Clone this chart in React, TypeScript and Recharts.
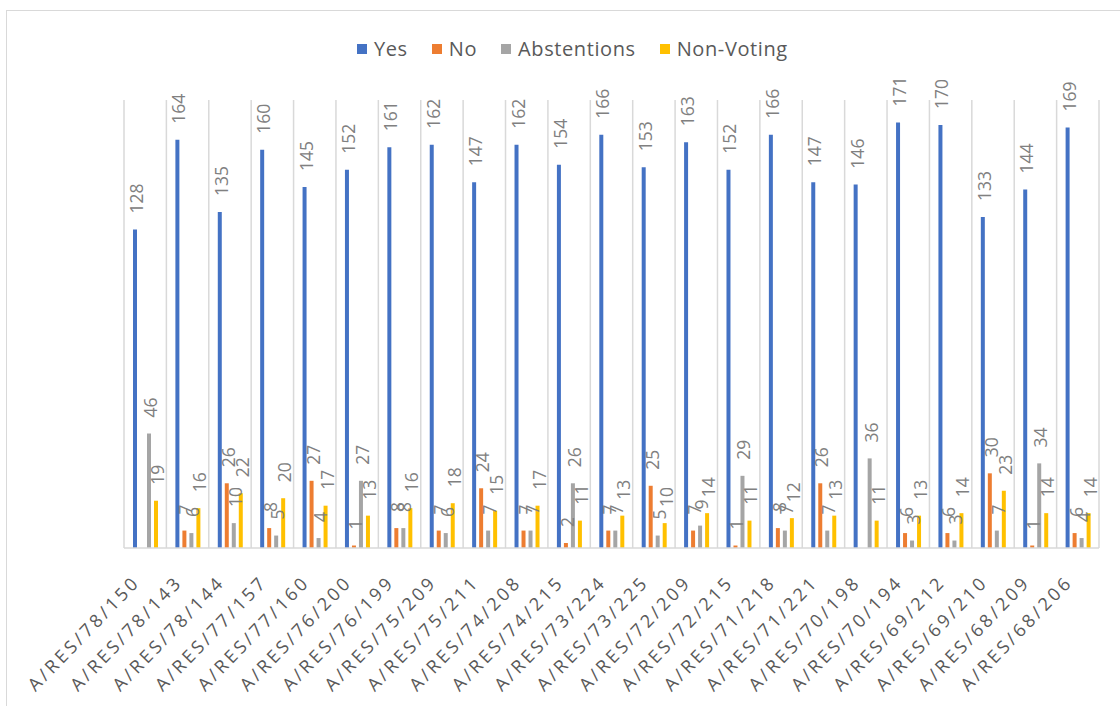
import React from 'react';
import { BarChart, Bar, XAxis, YAxis, CartesianGrid, Legend, LabelList } from 'recharts';

const categories = [
  'A/RES/78/150', 'A/RES/78/143', 'A/RES/78/144', 'A/RES/77/157', 'A/RES/77/160', 'A/RES/76/200',
  'A/RES/76/199', 'A/RES/75/209', 'A/RES/75/211', 'A/RES/74/208', 'A/RES/74/215', 'A/RES/73/224',
  'A/RES/73/225', 'A/RES/72/209', 'A/RES/72/215', 'A/RES/71/218', 'A/RES/71/221', 'A/RES/70/198',
  'A/RES/70/194', 'A/RES/69/212', 'A/RES/69/210', 'A/RES/68/209', 'A/RES/68/206',
];
const yesVotes = [128, 164, 135, 160, 145, 152, 161, 162, 147, 162, 154, 166, 153, 163, 152, 166, 147, 146, 171, 170, 133, 144, 169];
const noVotes = [0, 7, 26, 8, 27, 1, 8, 7, 24, 7, 2, 7, 25, 7, 1, 8, 26, null, 6, 6, 30, 1, 6];
const abstentions = [46, 6, 10, 5, 4, 27, 8, 6, 7, 7, 26, 7, 5, 9, 29, 7, 7, 36, 3, 3, 7, 34, 4];
const nonVoting = [19, 16, 22, 20, 17, 13, 16, 18, 15, 17, 11, 13, 10, 14, 11, 12, 13, 11, 13, 14, 23, 14, 14];

const seriesNames = ['Yes', 'No', 'Abstentions', 'Non-Voting'];
const seriesKeys = ['yes', 'no', 'abst', 'nv'];
const seriesColors = ['#4472C4', '#ED7D31', '#A5A5A5', '#FFC000'];

const data = categories.map((c, i) => ({
  name: c,
  yes: yesVotes[i],
  no: noVotes[i],
  abst: abstentions[i],
  nv: nonVoting[i],
}));

const FONT = '"Open Sans", sans-serif';

const renderValueLabel = (props: any) => {
  const { x, y, width, value } = props;
  if (value === null || value === undefined) return null;
  const cx = Number(x) + Number(width) / 2 + 1;
  const cy = Number(y) - 16;
  return (
    <text
      x={cx}
      y={cy}
      transform={`rotate(-90, ${cx}, ${cy})`}
      textAnchor="start"
      dominantBaseline="central"
      fill="#808080"
      fontSize={17.5}
      fontFamily={FONT}
    >
      {value}
    </text>
  );
};

const renderTick = (props: any) => {
  const { x, y, payload } = props;
  return (
    <g transform={`translate(${x - 4}, ${y + 35})`}>
      <text
        x={0}
        y={0}
        transform="rotate(-46)"
        textAnchor="end"
        fill="#595959"
        fontSize={18}
        fontFamily={FONT}
        letterSpacing={3.2}
      >
        {payload.value}
      </text>
    </g>
  );
};

const renderLegend = () => (
  <div style={{ display: 'flex', alignItems: 'center', fontFamily: FONT, fontSize: 20, color: '#595959', whiteSpace: 'nowrap' }}>
    {seriesNames.map((n, i) => (
      <div key={n} style={{ display: 'flex', alignItems: 'center', marginRight: 24 }}>
        <span style={{ display: 'inline-block', width: 10, height: 10, background: seriesColors[i], marginRight: 7 }} />
        <span style={{ letterSpacing: 0.6 }}>{n}</span>
      </div>
    ))}
  </div>
);

const verticalLines = ({ offset }: any) => {
  const res: number[] = [];
  for (let i = 0; i <= categories.length; i++) {
    res.push(offset.left + (i * offset.width) / categories.length);
  }
  return res;
};

export default function App() {
  return (
    <div style={{ position: 'absolute', left: 0, top: 0, width: 1120, height: 706, background: '#fff', overflow: 'hidden' }}>
      <div style={{ position: 'absolute', left: 6, top: 10, width: 1130, height: 720, border: '1px solid #d9d9d9' }} />
      <div style={{ position: 'absolute', left: 0, top: 0 }}>
        <BarChart
          width={1120}
          height={706}
          data={data}
          margin={{ top: 100, right: 21, left: 124, bottom: 28 }}
          barSize={4}
          barGap={3}
        >
          <CartesianGrid horizontal={false} vertical stroke="#d9d9d9" strokeWidth={1.5} verticalCoordinatesGenerator={verticalLines} />
          <XAxis
            dataKey="name"
            interval={0}
            height={130}
            tickSize={0}
            tickMargin={0}
            tick={renderTick}
            axisLine={{ stroke: '#d9d9d9', strokeWidth: 1.5 }}
            tickLine={false}
          />
          <YAxis hide domain={[0, 180]} />
          <Legend
            layout="vertical"
            align="center"
            verticalAlign="middle"
            content={renderLegend}
            wrapperStyle={{ position: 'absolute', top: 35, left: 357, width: 500, height: 26 }}
          />
          {seriesKeys.map((k, i) => (
            <Bar key={k} dataKey={k} name={seriesNames[i]} fill={seriesColors[i]} isAnimationActive={false}>
              <LabelList dataKey={k} content={renderValueLabel} />
            </Bar>
          ))}
        </BarChart>
      </div>
    </div>
  );
}
